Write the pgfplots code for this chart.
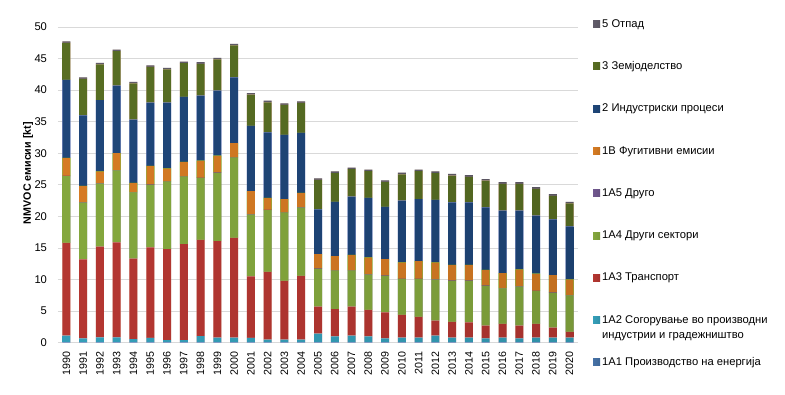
\documentclass[border=0pt]{standalone}
\usepackage{fontspec}
\setmainfont{Liberation Sans}
\usepackage{pgfplots}
\pgfplotsset{compat=1.18}
\usepackage{pgfplotstable}

\definecolor{cA}{RGB}{79,129,189}
\definecolor{cB}{RGB}{60,180,210}
\definecolor{cC}{RGB}{205,62,56}
\definecolor{cD}{RGB}{150,190,70}
\definecolor{cE}{RGB}{128,100,162}
\definecolor{cF}{RGB}{243,140,40}
\definecolor{cG}{RGB}{35,80,138}
\definecolor{cH}{RGB}{100,125,40}
\definecolor{cI}{RGB}{110,105,120}

\pgfplotstableread{
yr   a1   a2   a3    a4    a5   b1   p2    p3   p5
1990 0.05 1.05 14.7  10.6  0.02 2.85 12.35 5.85 0.25
1991 0.05 0.65 12.5  9.0   0.02 2.6  11.2  5.75 0.25
1992 0.05 0.8  14.35 10.0  0.02 1.9  11.3  5.65 0.25
1993 0.05 0.8  15.05 11.4  0.02 2.7  10.7  5.45 0.25
1994 0.05 0.5  12.75 10.5  0.02 1.5  10.0  5.75 0.25
1995 0.05 0.7  14.35 9.9   0.02 3.0  10.0  5.65 0.25
1996 0.05 0.35 14.4  10.7  0.02 2.1  10.4  5.25 0.25
1997 0.05 0.35 15.2  10.7  0.02 2.3  10.3  5.35 0.25
1998 0.05 1.0  15.25 9.8   0.02 2.7  10.3  5.05 0.25
1999 0.05 0.75 15.3  10.8  0.02 2.7  10.3  4.95 0.25
2000 0.05 0.75 15.8  12.7  0.02 2.3  10.4  5.05 0.25
2001 0.05 0.7  9.75  9.8   0.02 3.7  10.3  4.95 0.25
2002 0.05 0.45 10.7  9.8   0.02 1.9  10.4  4.75 0.25
2003 0.05 0.45 9.3   10.8  0.02 2.1  10.2  4.75 0.25
2004 0.05 0.45 10.1  10.8  0.02 2.3  9.5   4.75 0.25
2005 0.05 1.4  4.25  6.0   0.02 2.3  7.1   4.65 0.25
2006 0.05 0.95 4.3   6.1   0.02 2.3  8.6   4.55 0.25
2007 0.05 1.05 4.6   5.7   0.02 2.5  9.2   4.35 0.25
2008 0.05 0.95 4.2   5.6   0.02 2.7  9.4   4.25 0.25
2009 0.05 0.65 4.1   5.8   0.02 2.6  8.3   3.95 0.25
2010 0.05 0.75 3.6   5.7   0.02 2.6  9.8   4.15 0.25
2011 0.05 0.75 3.3   6.0   0.02 2.8  9.8   4.45 0.25
2012 0.05 1.05 2.4   6.5   0.02 2.7  9.9   4.25 0.25
2013 0.05 0.75 2.5   6.5   0.02 2.5  9.9   4.25 0.25
2014 0.05 0.75 2.4   6.6   0.02 2.5  9.9   4.05 0.25
2015 0.05 0.65 2.0   6.3   0.02 2.5  9.9   4.25 0.25
2016 0.05 0.75 2.2   5.6   0.02 2.4  9.9   4.25 0.25
2017 0.05 0.65 2.0   6.2   0.02 2.7  9.3   4.25 0.25
2018 0.05 0.75 2.2   5.2   0.02 2.7  9.2   4.25 0.25
2019 0.05 0.75 1.6   5.5   0.02 2.8  8.8   3.75 0.25
2020 0.05 0.75 0.9   5.8   0.02 2.5  8.4   3.65 0.25
}\data

\pgfplotsset{
  seg/.style={draw=none, left color=#1!88!black, middle color=#1!82!white, right color=#1!80!black,
    legend image code/.code={\path[left color=#1!88!black, middle color=#1!82!white, right color=#1!80!black] (0pt,-3.5pt) rectangle (7pt,3.5pt);}},
}

\begin{document}
\begin{tikzpicture}[font=\fontsize{10.7}{12.5}\selectfont]
\begin{axis}[
  scale only axis, width=520pt, height=315.7pt,
  ybar stacked, bar width=8pt,
  xmin=1989.5, xmax=2020.5, ymin=0, ymax=50,
  xtick={1990,...,2020}, ytick={0,5,...,50},
  /pgf/number format/1000 sep={},
  /pgf/number format/assume math mode=true,
  xticklabel style={rotate=90, anchor=east, font=\fontsize{10.7}{12}\selectfont},
  yticklabel style={font=\fontsize{11.2}{12}\selectfont},
  xticklabel shift=5pt, yticklabel shift=7.5pt,
  ymajorgrids, grid style={draw={rgb,255:red,217;green,217;blue,217}, line width=0.9pt},
  axis line style={draw=none}, major tick length=0pt,
  ylabel={\textbf{NMVOC емисии [kt]}},
  every axis y label/.style={at={([xshift=-30pt]rel axis cs:0,0.537)}, rotate=90, anchor=center},
  legend style={at={(rel axis cs:1,1)}, anchor=north west, draw=none, fill=none, inner sep=0pt,
    xshift=15pt, yshift=10pt, row sep=29pt, cells={anchor=west, align=left},
    font=\fontsize{11.2}{13}\selectfont},
  reverse legend,
]
\coordinate (O) at (rel axis cs:0,0);
\addplot+[seg=cA] table[x=yr, y=a1] {\data};
\addlegendentry{1A1 Производство на енергија}
\addplot+[seg=cB] table[x=yr, y=a2] {\data};
\addlegendentry{\vphantom{Ду}\smash{\begin{tabular}[t]{@{}l@{}}1A2 Согорување во производни\\[2pt]индустрии и градежништво\end{tabular}}}
\addplot+[seg=cC] table[x=yr, y=a3] {\data};
\addlegendentry{1A3 Транспорт}
\addplot+[seg=cD] table[x=yr, y=a4] {\data};
\addlegendentry{1A4 Други сектори}
\addplot+[seg=cE] table[x=yr, y=a5] {\data};
\addlegendentry{1A5 Друго}
\addplot+[seg=cF] table[x=yr, y=b1] {\data};
\addlegendentry{1B Фугитивни  емисии}
\addplot+[seg=cG] table[x=yr, y=p2] {\data};
\addlegendentry{2 Индустриски процеси}
\addplot+[seg=cH] table[x=yr, y=p3] {\data};
\addlegendentry{3 Земјоделство}
\addplot+[seg=cI] table[x=yr, y=p5] {\data};
\addlegendentry{5 Отпад}
\end{axis}
\path (O) ++(-58pt,-52.3pt) rectangle ++(785pt,395pt);
\end{tikzpicture}
\end{document}
